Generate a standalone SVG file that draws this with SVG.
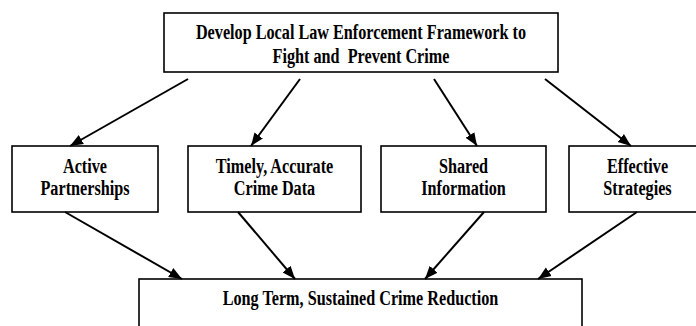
<svg xmlns="http://www.w3.org/2000/svg" width="696" height="326" viewBox="0 0 696 326">
  <style>
    .box { fill: #ffffff; stroke: #000000; stroke-width: 1.6; }
    .lbl { font-family: 'Liberation Serif', serif; font-weight: 700; font-size: 20px; text-anchor: middle; fill: #000000; }
    .edge { stroke: #000000; stroke-width: 2; fill: none; marker-end: url(#head); }
  </style>
  <defs>
    <marker id="head" markerUnits="userSpaceOnUse" markerWidth="14" markerHeight="12" viewBox="0 0 14 12" refX="13" refY="6" orient="auto">
      <path d="M0,0.8 L13,6 L0,11.2 Z" fill="#000000"/>
    </marker>
  </defs>
  <rect width="696" height="326" fill="#ffffff"/>

  <!-- goal -->
  <g id="framework">
    <rect class="box" x="164" y="13" width="394" height="59"/>
    <text class="lbl" transform="translate(361,39) scale(0.81,1)">Develop Local Law Enforcement Framework to</text>
    <text class="lbl" transform="translate(361,63) scale(0.81,1)">Fight and&#160; Prevent Crime</text>
  </g>

  <!-- pillars -->
  <g id="partnerships">
    <rect class="box" x="12" y="146" width="146" height="66"/>
    <text class="lbl" transform="translate(85,173) scale(0.81,1)">Active</text>
    <text class="lbl" transform="translate(85,195) scale(0.81,1)">Partnerships</text>
  </g>
  <g id="crime-data">
    <rect class="box" x="188" y="146" width="173" height="66"/>
    <text class="lbl" transform="translate(274.5,173) scale(0.81,1)">Timely, Accurate</text>
    <text class="lbl" transform="translate(274.5,195) scale(0.81,1)">Crime Data</text>
  </g>
  <g id="shared-info">
    <rect class="box" x="381" y="146" width="165" height="66"/>
    <text class="lbl" transform="translate(463.5,173) scale(0.81,1)">Shared</text>
    <text class="lbl" transform="translate(463.5,195) scale(0.81,1)">Information</text>
  </g>
  <g id="strategies">
    <rect class="box" x="569" y="146" width="137" height="66"/>
    <text class="lbl" transform="translate(637.5,173) scale(0.81,1)">Effective</text>
    <text class="lbl" transform="translate(637.5,195) scale(0.81,1)">Strategies</text>
  </g>

  <!-- outcome -->
  <g id="reduction">
    <rect class="box" x="139" y="279" width="443" height="60"/>
    <text class="lbl" transform="translate(360.5,305) scale(0.81,1)">Long Term, Sustained Crime Reduction</text>
  </g>

  <g id="connectors">
    <line class="edge" x1="188" y1="79" x2="70" y2="146"/>
    <line class="edge" x1="300" y1="79" x2="251" y2="146"/>
    <line class="edge" x1="434" y1="79" x2="477" y2="146"/>
    <line class="edge" x1="545" y1="79" x2="631" y2="146"/>
    <line class="edge" x1="65" y1="212" x2="182" y2="279"/>
    <line class="edge" x1="238" y1="212" x2="295" y2="279"/>
    <line class="edge" x1="484" y1="212" x2="425" y2="279"/>
    <line class="edge" x1="637" y1="212" x2="538" y2="279"/>
  </g>
</svg>
